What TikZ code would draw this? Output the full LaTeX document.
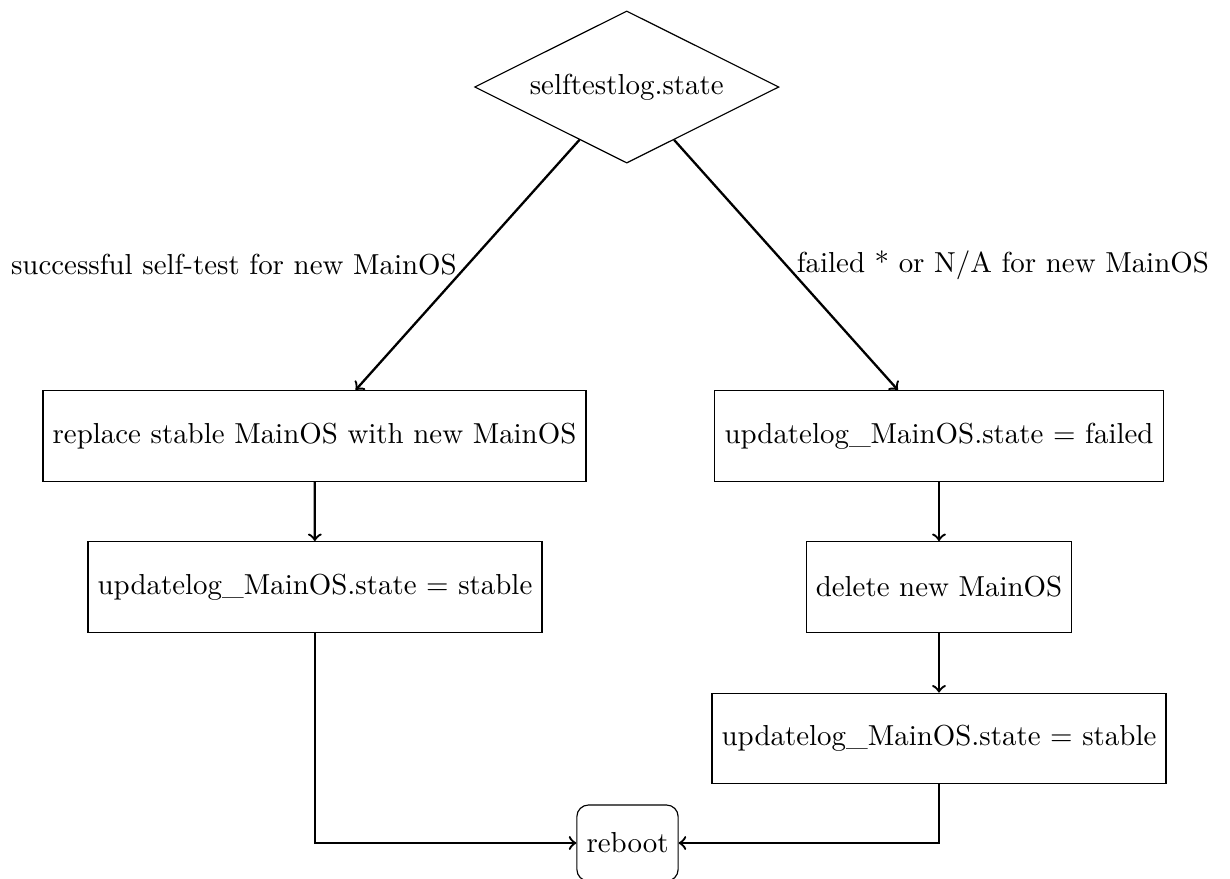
\documentclass[tikz,border=0pt]{standalone}
\usetikzlibrary{shapes.geometric,arrows}
\begin{document}
\begin{tikzpicture}[x=0.346pt,y=-0.346pt,
  decision/.style={draw,thin,diamond,aspect=2,inner sep=3.33pt},
  stepbox/.style={draw,thin,rectangle,minimum height=31.4pt,inner sep=3.33pt},
  endbox/.style={draw,thin,rectangle,rounded corners=4pt,minimum height=26.3pt,inner sep=3.33pt},
  flow/.style={->,thick}]
  \useasboundingbox (0,0) rectangle (1230,878);

  % decision at the top
  \node[decision] (test) at (626.75,87) {selftestlog.state};

  % success branch
  \node[stepbox] (replace) at (314.5,436) {replace stable MainOS with new MainOS};
  \node[stepbox] (stableL) at (315,587) {updatelog\_MainOS.state = stable};

  % failure branch
  \node[stepbox] (failed) at (939,436) {updatelog\_MainOS.state = failed};
  \node[stepbox] (delete) at (939,587) {delete new MainOS};
  \node[stepbox] (stableR) at (939,738.5) {updatelog\_MainOS.state = stable};

  % common end
  \node[endbox] (reboot) at (627.5,843) {reboot};

  \draw[flow] (test) -- (replace) node[midway,left] {successful self-test for new MainOS};
  \draw[flow] (test) -- (failed) node[midway,right] {failed * or N/A for new MainOS};
  \draw[flow] (replace) -- (stableL);
  \draw[flow] (failed) -- (delete);
  \draw[flow] (delete) -- (stableR);
  \draw[flow] (stableL) |- (reboot);
  \draw[flow] (stableR) |- (reboot);
\end{tikzpicture}
\end{document}
